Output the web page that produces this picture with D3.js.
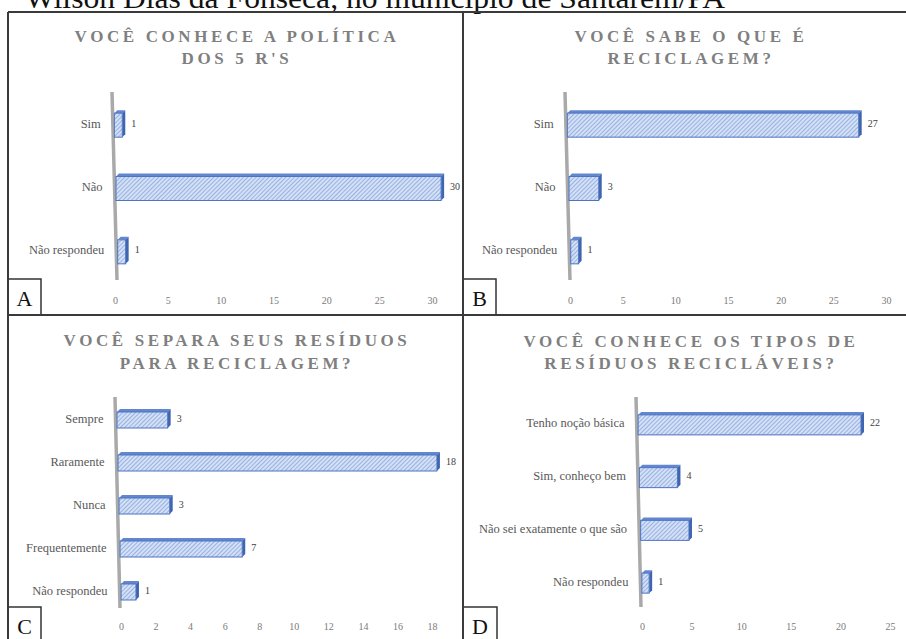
<!DOCTYPE html>
<html>
<head>
<meta charset="utf-8">
<script src="https://cdn.jsdelivr.net/npm/d3@7"></script>
<style>
  body { margin: 0; background: #fff; }
  svg text { font-family: "Liberation Serif", "Times New Roman", serif; }
  .caption { font-size: 29px; fill: #111; }
  .title { font-size: 17px; font-weight: bold; fill: #7f7f7f; letter-spacing: 3.6px; }
  .catLabel { font-size: 12.5px; fill: #595959; }
  .valLabel { font-size: 10px; fill: #404040; }
  .tick text { font-size: 10px; fill: #7a7a7a; font-family: "Liberation Serif", serif; }
  .letter { font-size: 22px; fill: #111; }
</style>
</head>
<body>
<script>
//survey data, one block per panel
var catsA = ["Sim", "Não", "Não respondeu"];
var valsA = [1, 30, 1];
var ticksA = [0, 5, 10, 15, 20, 25, 30];
var titleA = ["VOCÊ CONHECE A POLÍTICA", "DOS 5 R'S"];

var catsB = ["Sim", "Não", "Não respondeu"];
var valsB = [27, 3, 1];
var ticksB = [0, 5, 10, 15, 20, 25, 30];
var titleB = ["VOCÊ SABE O QUE É", "RECICLAGEM?"];

var catsC = ["Sempre", "Raramente", "Nunca", "Frequentemente", "Não respondeu"];
var valsC = [3, 18, 3, 7, 1];
var ticksC = [0, 2, 4, 6, 8, 10, 12, 14, 16, 18];
var titleC = ["VOCÊ SEPARA SEUS RESÍDUOS", "PARA RECICLAGEM?"];

var catsD = ["Tenho noção básica", "Sim, conheço bem", "Não sei exatamente o que são", "Não respondeu"];
var valsD = [22, 4, 5, 1];
var ticksD = [0, 5, 10, 15, 20, 25];
var titleD = ["VOCÊ CONHECE OS TIPOS DE", "RESÍDUOS RECICLÁVEIS?"];

var caption = "Wilson Dias da Fonseca, no município de Santarém/PA";

window.onload = function(){

    var w = 906, h = 639;

    var svg = d3.select("body")
        .append("svg")
        .attr("width", w)
        .attr("height", h);

    //hatch pattern for the bars
    var defs = svg.append("defs");
    var pat = defs.append("pattern")
        .attr("id", "hatch")
        .attr("patternUnits", "userSpaceOnUse")
        .attr("width", 3)
        .attr("height", 3)
        .attr("patternTransform", "rotate(45)");
    pat.append("rect")
        .attr("width", 3)
        .attr("height", 3)
        .style("fill", "#d3e0f6");
    pat.append("line")
        .attr("x1", 0).attr("y1", 0)
        .attr("x2", 0).attr("y2", 3)
        .style("stroke", "#809fd8")
        .style("stroke-width", 1.4);

    //caption (cut off at the top, like the source page)
    svg.append("text")
        .attr("class", "caption")
        .attr("x", 25)
        .attr("y", 8)
        .attr("textLength", 700)
        .attr("lengthAdjust", "spacingAndGlyphs")
        .text(caption);

    //panel layout
    var panels = [
        {cats: catsA, vals: valsA, ticks: ticksA, title: titleA, letter: "A",
         x0: 115, x1: 432, tickY: 297, wall: [112, 92, 117, 280], band: [92, 282], barH: 27,
         titleX: 237, titleY: [42, 64], box: [8, 279, 33, 36], letterY: 306},
        {cats: catsB, vals: valsB, ticks: ticksB, title: titleB, letter: "B",
         x0: 570, x1: 886, tickY: 297, wall: [565, 92, 570, 280], band: [92, 282], barH: 27,
         titleX: 691, titleY: [42, 64], box: [463, 279, 33, 36], letterY: 306},
        {cats: catsC, vals: valsC, ticks: ticksC, title: titleC, letter: "C",
         x0: 121, x1: 432, tickY: 623, wall: [115, 397, 120, 608], band: [397, 612], barH: 19,
         titleX: 237, titleY: [346, 369], box: [8, 607, 33, 34], letterY: 634},
        {cats: catsD, vals: valsD, ticks: ticksD, title: titleD, letter: "D",
         x0: 642, x1: 890, tickY: 623, wall: [636, 397, 641, 607], band: [397, 608], barH: 23,
         titleX: 691, titleY: [347, 369], box: [463, 607, 34, 34], letterY: 634}
    ];

    panels.forEach(function(p){
        var g = svg.append("g");

        //title
        g.selectAll(".title")
            .data(p.title)
            .enter()
            .append("text")
            .attr("class", "title")
            .attr("text-anchor", "middle")
            .attr("x", p.titleX)
            .attr("y", function(d, i){ return p.titleY[i]; })
            .text(function(d){ return d; });

        var max = p.ticks[p.ticks.length - 1];
        var x = d3.scaleLinear()
            .domain([0, max])
            .range([p.x0, p.x1]);

        //bars drawn a bit longer than the tick axis (3d perspective)
        var len = d3.scaleLinear()
            .domain([0, max])
            .range([0, (p.x1 - p.x0) * 1.035]);

        var y = d3.scalePoint()
            .domain(p.cats)
            .range(p.band)
            .padding(0.5);

        //slanted wall line
        var wall = d3.scaleLinear()
            .domain([p.wall[1], p.wall[3]])
            .range([p.wall[0], p.wall[2]]);

        g.append("line")
            .attr("x1", p.wall[0]).attr("y1", p.wall[1])
            .attr("x2", p.wall[2]).attr("y2", p.wall[3])
            .style("stroke", "#a9a9a9")
            .style("stroke-width", 3.5);

        //x axis ticks
        var axis = g.append("g")
            .attr("class", "axis")
            .attr("transform", "translate(0," + p.tickY + ")")
            .call(d3.axisBottom(x).tickValues(p.ticks).tickSize(0).tickPadding(0));
        axis.select(".domain").remove();

        var data = p.cats.map(function(c, i){ return {cat: c, val: p.vals[i]}; });
        var dep = 3;

        var bars = g.selectAll(".bar")
            .data(data)
            .enter()
            .append("g")
            .attr("class", "bar");

        function bx0(d){ return wall(y(d.cat)) + 1.5; }
        function bx1(d){ return bx0(d) + len(d.val) - dep; }
        function top(d){ return y(d.cat) - p.barH / 2 + dep; }
        function bot(d){ return y(d.cat) + p.barH / 2; }

        //top face
        bars.append("path")
            .attr("d", function(d){
                return "M" + bx0(d) + "," + top(d) + "L" + (bx0(d) + dep) + "," + (top(d) - dep) +
                    "L" + (bx1(d) + dep) + "," + (top(d) - dep) + "L" + bx1(d) + "," + top(d) + "Z";
            })
            .style("fill", "#6287cf");

        //side face
        bars.append("path")
            .attr("d", function(d){
                return "M" + bx1(d) + "," + top(d) + "L" + (bx1(d) + dep) + "," + (top(d) - dep) +
                    "L" + (bx1(d) + dep) + "," + (bot(d) - dep) + "L" + bx1(d) + "," + bot(d) + "Z";
            })
            .style("fill", "#3f64b0");

        //front face
        bars.append("rect")
            .attr("x", bx0)
            .attr("y", top)
            .attr("width", function(d){ return bx1(d) - bx0(d); })
            .attr("height", function(d){ return bot(d) - top(d); })
            .style("fill", "url(#hatch)")
            .style("stroke", "#4d74c2")
            .style("stroke-width", 1);

        //value labels
        bars.append("text")
            .attr("class", "valLabel")
            .attr("x", function(d){ return bx1(d) + dep + 6; })
            .attr("y", function(d){ return y(d.cat) + 3; })
            .text(function(d){ return d.val; });

        //category labels
        bars.append("text")
            .attr("class", "catLabel")
            .attr("text-anchor", "end")
            .attr("x", function(d){ return wall(y(d.cat)) - 12; })
            .attr("y", function(d){ return y(d.cat) + 4; })
            .text(function(d){ return d.cat; });

        //panel letter box
        g.append("rect")
            .attr("x", p.box[0]).attr("y", p.box[1])
            .attr("width", p.box[2]).attr("height", p.box[3])
            .style("fill", "none")
            .style("stroke", "#333")
            .style("stroke-width", 1.5);
        g.append("text")
            .attr("class", "letter")
            .attr("text-anchor", "middle")
            .attr("x", p.box[0] + p.box[2] / 2)
            .attr("y", p.letterY)
            .text(p.letter);
    });

    //outer frame and dividers
    var frame = [
        [8, 12, 906, 12],
        [8, 12, 8, 639],
        [463, 12, 463, 639],
        [8, 315, 906, 315]
    ];
    svg.selectAll(".frame")
        .data(frame)
        .enter()
        .append("line")
        .attr("class", "frame")
        .attr("x1", function(d){ return d[0]; })
        .attr("y1", function(d){ return d[1]; })
        .attr("x2", function(d){ return d[2]; })
        .attr("y2", function(d){ return d[3]; })
        .style("stroke", "#3a3a3a")
        .style("stroke-width", 2);
};
</script>
</body>
</html>
